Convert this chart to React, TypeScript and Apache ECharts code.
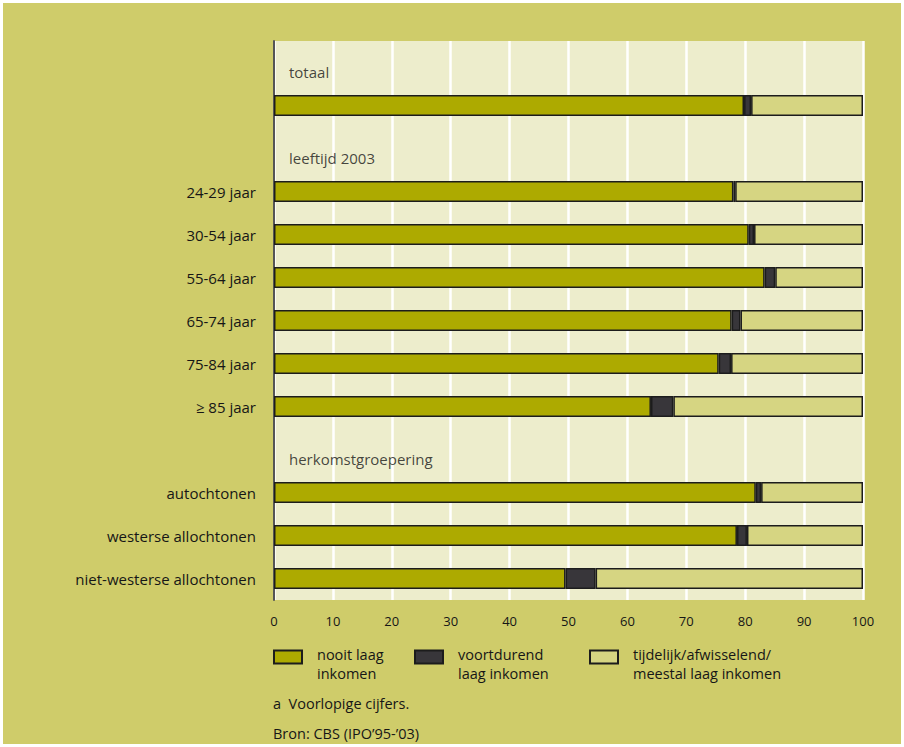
import React, { useEffect, useRef } from "react";
import * as echarts from "echarts";

const categories = [
  "h:totaal",
  "totaal",
  "h:leeftijd 2003",
  "24-29 jaar",
  "30-54 jaar",
  "55-64 jaar",
  "65-74 jaar",
  "75-84 jaar",
  "≥ 85 jaar",
  "h:herkomstgroepering",
  "autochtonen",
  "westerse allochtonen",
  "niet-westerse allochtonen",
];
const hiddenLabels = ["totaal"];
const headings = ["totaal", "leeftijd 2003", "herkomstgroepering"];

const barRows = [
  "totaal",
  "24-29 jaar",
  "30-54 jaar",
  "55-64 jaar",
  "65-74 jaar",
  "75-84 jaar",
  "≥ 85 jaar",
  "autochtonen",
  "westerse allochtonen",
  "niet-westerse allochtonen",
];
const nooitLaag = [79.8, 78.0, 80.6, 83.3, 77.7, 75.5, 64.0, 81.8, 78.6, 49.5];
const voortdurend = [1.2, 0.3, 0.9, 1.8, 1.5, 2.1, 3.8, 0.9, 1.7, 5.1];
const tijdelijk = [19.0, 21.7, 18.5, 14.9, 20.8, 22.4, 32.2, 17.3, 19.7, 45.4];

const seriesNames = ["nooit laag", "voortdurend", "tijdelijk"];
const legendLines = [
  ["nooit laag", "inkomen"],
  ["voortdurend", "laag inkomen"],
  ["tijdelijk/afwisselend/", "meestal laag inkomen"],
];
const seriesColors = ["#ADAA00", "#38363A", "#D6D582"];
const xTicks = { min: 0, max: 100, interval: 10 };
const footnotes = ["a  Voorlopige cijfers.", "Bron: CBS (IPO’95-’03)"];

const FONT = "'Open Sans'";
const INK = "#161616";

export default function App() {
  const ref = useRef<HTMLDivElement>(null);
  useEffect(() => {
    document.body.style.margin = "0";
    const chart = echarts.init(ref.current!, null, { renderer: "svg" });
    const valuesList = [nooitLaag, voortdurend, tijdelijk];
    const toData = (vals: number[]) =>
      categories.map((c) => {
        const i = barRows.indexOf(c);
        return i >= 0 ? vals[i] : "-";
      });
    const barSeries = seriesNames.map((name, k) => ({
      name,
      type: "bar",
      stack: "s",
      barWidth: "49%",
      data: toData(valuesList[k]),
      itemStyle: {
        color: seriesColors[k],
        borderColor: "#1c1c1c",
        borderWidth: 1.5,
      },
      silent: true,
    }));
    const legendLefts = [270, 411, 586];
    chart.setOption({
      animation: false,
      backgroundColor: "#CFCC6A",
      textStyle: { fontFamily: FONT },
      grid: {
        left: 271,
        right: 38,
        top: 38,
        bottom: 144,
        show: true,
        backgroundColor: "#EDEDCC",
        borderWidth: 0,
      },
      xAxis: {
        type: "value",
        min: xTicks.min,
        max: xTicks.max,
        interval: xTicks.interval,
        axisLine: { show: false },
        axisTick: { show: false },
        splitLine: { show: true, lineStyle: { color: "#FFFFFF", width: 2.5 } },
        axisLabel: {
          color: INK,
          fontSize: 13,
          fontFamily: FONT,
          margin: 14,
        },
      },
      yAxis: {
        type: "category",
        inverse: true,
        data: categories,
        axisLine: { show: true, lineStyle: { color: "#555555", width: 2 } },
        axisTick: { show: false },
        splitLine: { show: false },
        axisLabel: {
          color: INK,
          fontSize: 15,
          fontFamily: FONT,
          margin: 18,
          formatter: (v: string) =>
            v.startsWith("h:") || hiddenLabels.includes(v) ? "" : v,
        },
      },
      legend: seriesNames.map((name, k) => ({
        data: [{ name, icon: "rect" }],
        left: legendLefts[k],
        top: 631,
        padding: 0,
        itemWidth: 28,
        itemHeight: 13,
        selectedMode: false,
        formatter: () =>
          "{s|\u00a0}\n{a|" + legendLines[k][0] + "}\n{a|" + legendLines[k][1] + "}",
        textStyle: {
          fontFamily: FONT,
          fontSize: 14.5,
          color: INK,
          padding: [0, 0, 0, 10],
          rich: {
            s: { fontSize: 8, lineHeight: 14 },
            a: { fontSize: 14.5, lineHeight: 19, fontFamily: FONT, color: INK },
          },
        },
      })),
      series: [
        ...barSeries,
        {
          name: "headings",
          type: "scatter",
          symbolSize: 0,
          silent: true,
          data: headings.map((h) => ({ name: h, value: [0, "h:" + h] })),
          label: {
            show: true,
            position: "right",
            distance: 0,
            offset: [15, 9],
            formatter: (p: any) => p.name,
            color: INK,
            fontSize: 15,
            fontFamily: FONT,
          },
        },
      ],
      graphic: footnotes.map((t, i) => ({
        type: "text",
        x: 270,
        y: 700 + i * 30,
        style: {
          text: t,
          fill: INK,
          font: `14.5px ${FONT}`,
          verticalAlign: "middle",
        },
      })),
    });
    return () => chart.dispose();
  }, []);
  return (
    <div style={{ width: 904, height: 747, background: "#ffffff", position: "relative" }}>
      <div
        ref={ref}
        style={{ position: "absolute", left: 3, top: 3, width: 898, height: 741 }}
      />
    </div>
  );
}
